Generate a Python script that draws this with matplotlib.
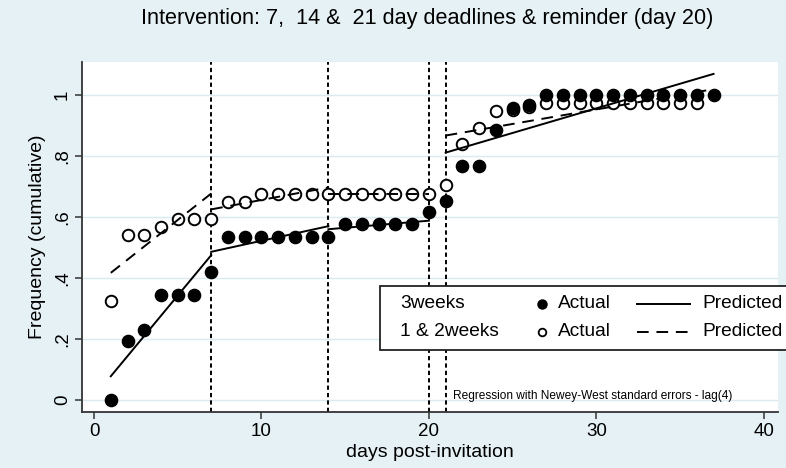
import matplotlib
matplotlib.use("Agg")
import matplotlib.pyplot as plt
from matplotlib.patches import Rectangle

# couleurs style Stata s2color
bg = '#e6f1f5'
grid_col = '#dbeaf0'

# donnees
days_3w = [1, 2, 3, 4, 5, 6, 7, 8, 9, 10, 11, 12, 13, 14, 15, 16, 17, 18, 19,
           20, 21, 22, 23, 24, 25, 26, 27, 28, 29, 30, 31, 32, 33, 34, 35, 36, 37]
actual_3w = [0.0, 0.193, 0.23, 0.344, 0.344, 0.344, 0.42,
             0.535, 0.535, 0.535, 0.535, 0.535, 0.535, 0.535,
             0.577, 0.577, 0.577, 0.577, 0.577,
             0.615, 0.653, 0.767, 0.767, 0.885, 0.958, 0.967,
             1.0, 1.0, 1.0, 1.0, 1.0, 1.0, 1.0, 1.0, 1.0, 1.0, 1.0]

days_12w = [1, 2, 3, 4, 5, 6, 7, 8, 9, 10, 11, 12, 13, 14, 15, 16, 17, 18,
            19, 20, 21, 22, 23, 24, 25, 26, 27, 28, 29, 30, 31, 32, 33, 34, 35, 36]
actual_12w = [0.326, 0.541, 0.541, 0.568, 0.592, 0.592, 0.592, 0.648, 0.648,
              0.677, 0.677, 0.677, 0.677, 0.677,
              0.677, 0.677, 0.677, 0.677, 0.677, 0.677,
              0.705, 0.839, 0.893, 0.947, 0.95, 0.962,
              0.973, 0.973, 0.973, 0.973, 0.973, 0.973, 0.973, 0.973, 0.973, 0.973]

# droites predites par periode
seg_start = [1, 7, 14, 21]
seg_end = [7, 14, 20, 37]
pred_3w_start = [0.078, 0.486, 0.56, 0.811]
pred_3w_end = [0.475, 0.57, 0.588, 1.069]
pred_12w_start = [0.417, 0.625, 0.677, 0.867]
pred_12w_end = [0.677, 0.697, 0.677, 1.019]

deadlines = [7, 14, 20, 21]
xticks = [0, 10, 20, 30, 40]
yticks = [0, 0.2, 0.4, 0.6, 0.8, 1.0]
ylabels = ['0', '.2', '.4', '.6', '.8', '1']

plt.rcParams['font.family'] = ['Liberation Sans', 'DejaVu Sans']

fig = plt.figure(figsize=(7.86, 4.68), dpi=100, facecolor=bg)
ax = fig.add_axes([0.1043, 0.1197, 0.8855, 0.7478])
ax.set_facecolor('white')

for y in yticks:
    ax.axhline(y, color=grid_col, lw=1.0, zorder=0)

for d in deadlines:
    ax.axvline(d, color='black', lw=1.4, ls=(0, (2.2, 1.6)), zorder=1)

ax.plot(days_12w, actual_12w, 'o', ms=8.3, mfc='white', mec='black', mew=1.4, zorder=2)
ax.plot(days_3w, actual_3w, 'o', ms=8.8, mfc='black', mec='black', zorder=3)

for i in range(len(seg_start)):
    ax.plot([seg_start[i], seg_end[i]], [pred_3w_start[i], pred_3w_end[i]],
            color='black', lw=1.4, zorder=4)
    ax.plot([seg_start[i], seg_end[i]], [pred_12w_start[i], pred_12w_end[i]],
            color='black', lw=1.4, ls=(0, (6, 4)), zorder=4)

ax.set_xlim(-0.72, 40.85)
ax.set_ylim(-0.039, 1.108)
ax.set_xticks(xticks)
ax.set_yticks(yticks)
ax.set_yticklabels(ylabels, rotation=90, va='center')
ax.tick_params(axis='both', labelsize=13.5, length=5, width=1.1, color='#333333', direction='out')
ax.tick_params(axis='y', pad=3)
ax.tick_params(axis='x', pad=3)
for s in ['top', 'right']:
    ax.spines[s].set_visible(False)
for s in ['left', 'bottom']:
    ax.spines[s].set_color('#333333')
    ax.spines[s].set_linewidth(1.3)

ax.set_xlabel('days post-invitation', fontsize=14, labelpad=3)
ax.set_ylabel('Frequency (cumulative)', fontsize=14, labelpad=6)

fig.text(0.544, 0.9615, 'Intervention: 7,  14 &  21 day deadlines & reminder (day 20)',
         fontsize=15.6, ha='center', va='center')

ax.text(21.45, 0.013, 'Regression with Newey-West standard errors - lag(4)',
        fontsize=8.6, va='center', zorder=5)

# legende facon Stata
W, H = 786.0, 468.0
box = Rectangle((380 / W, 1 - 350 / H), 430 / W, 64 / H, transform=fig.transFigure,
                facecolor='white', edgecolor='#222222', lw=1.3, zorder=10, clip_on=False)
fig.patches.append(box)
rows = [1 - 304 / H, 1 - 331.5 / H]
group_names = ['3weeks', '1 & 2weeks']
for r, name in enumerate(group_names):
    fig.text(400 / W, rows[r], name, fontsize=13.8, va='center', zorder=11)
    fig.text(558 / W, rows[r], 'Actual', fontsize=13.8, va='center', zorder=11)
    fig.text(702 / W, rows[r], 'Predicted', fontsize=13.8, va='center', zorder=11)
fig.lines.append(plt.Line2D([541.5 / W], [rows[0]], marker='o', ms=6.5, mfc='black', mec='black',
                            transform=fig.transFigure, zorder=11))
fig.lines.append(plt.Line2D([541.5 / W], [rows[1]], marker='o', ms=5.5, mfc='white', mec='black',
                            mew=1.3, transform=fig.transFigure, zorder=11))
fig.lines.append(plt.Line2D([637 / W, 690 / W], [rows[0], rows[0]], color='black', lw=1.4,
                            transform=fig.transFigure, zorder=11))
fig.lines.append(plt.Line2D([637 / W, 690 / W], [rows[1], rows[1]], color='black', lw=1.4,
                            ls=(0, (6, 4)), transform=fig.transFigure, zorder=11))

fig.savefig('out.png', dpi=100, facecolor=bg)
